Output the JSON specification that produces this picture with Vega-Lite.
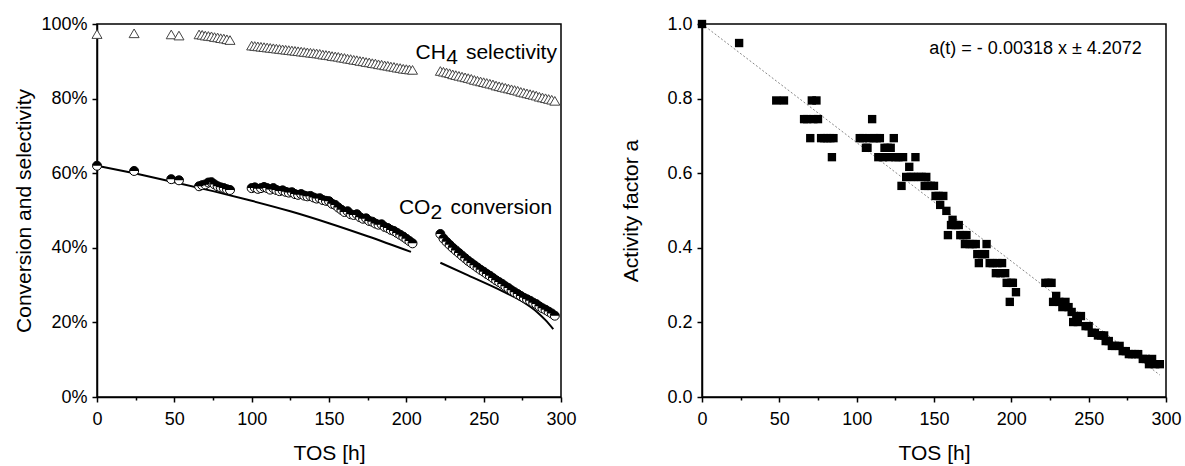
{
  "$schema": "https://vega.github.io/schema/vega-lite/v6.json",
  "background": "white",
  "padding": {"left": 13, "top": 14, "right": 5, "bottom": 0},
  "spacing": 43,
  "config": {
    "font": "Liberation Sans",
    "view": {"stroke": "black", "strokeWidth": 1.5},
    "axis": {
      "domainColor": "black", "domainWidth": 1.5,
      "tickColor": "black", "tickWidth": 1.5,
      "labelColor": "black", "titleColor": "black",
      "labelFont": "Liberation Sans", "titleFont": "Liberation Sans",
      "labelFontSize": 18, "titleFontSize": 21, "titleFontWeight": "normal",
      "grid": false, "labelPadding": 5
    }
  },
  "datasets": {
    "conv": [
      {"t": 0, "co2": 62.0, "ch4": 97.3},
      {"t": 24, "co2": 60.6, "ch4": 97.5},
      {"t": 48, "co2": 58.4, "ch4": 97.2},
      {"t": 53, "co2": 58.1, "ch4": 96.9},
      {"t": 66, "co2": 56.5, "ch4": 97.2},
      {"t": 68, "co2": 56.8, "ch4": 97.1},
      {"t": 70, "co2": 57.0, "ch4": 96.9},
      {"t": 72, "co2": 57.5, "ch4": 96.8},
      {"t": 74, "co2": 57.6, "ch4": 96.7},
      {"t": 76, "co2": 57.0, "ch4": 96.5},
      {"t": 78, "co2": 56.5, "ch4": 96.4},
      {"t": 80, "co2": 56.2, "ch4": 96.2},
      {"t": 82, "co2": 56.0, "ch4": 96.1},
      {"t": 84, "co2": 55.7, "ch4": 95.9},
      {"t": 86, "co2": 55.5, "ch4": 95.7},
      {"t": 100, "co2": 56.0, "ch4": 94.2},
      {"t": 102, "co2": 56.2, "ch4": 94.1},
      {"t": 104, "co2": 55.8, "ch4": 94.0},
      {"t": 106, "co2": 56.0, "ch4": 93.9},
      {"t": 108, "co2": 56.3, "ch4": 93.8},
      {"t": 110, "co2": 56.0, "ch4": 93.7},
      {"t": 112, "co2": 55.6, "ch4": 93.6},
      {"t": 114, "co2": 56.0, "ch4": 93.5},
      {"t": 116, "co2": 55.5, "ch4": 93.4},
      {"t": 118, "co2": 55.2, "ch4": 93.3},
      {"t": 120, "co2": 55.4, "ch4": 93.2},
      {"t": 122, "co2": 55.0, "ch4": 93.1},
      {"t": 124, "co2": 54.8, "ch4": 93.0},
      {"t": 126, "co2": 54.9, "ch4": 92.9},
      {"t": 128, "co2": 54.4, "ch4": 92.8},
      {"t": 130, "co2": 54.2, "ch4": 92.7},
      {"t": 132, "co2": 54.4, "ch4": 92.6},
      {"t": 134, "co2": 54.0, "ch4": 92.5},
      {"t": 136, "co2": 53.8, "ch4": 92.4},
      {"t": 138, "co2": 53.9, "ch4": 92.3},
      {"t": 140, "co2": 53.5, "ch4": 92.2},
      {"t": 142, "co2": 53.2, "ch4": 92.1},
      {"t": 144, "co2": 53.3, "ch4": 92.0},
      {"t": 146, "co2": 52.8, "ch4": 91.8},
      {"t": 148, "co2": 52.6, "ch4": 91.7},
      {"t": 150, "co2": 52.5, "ch4": 91.6},
      {"t": 152, "co2": 51.8, "ch4": 91.4},
      {"t": 154, "co2": 51.5, "ch4": 91.3},
      {"t": 156, "co2": 50.8, "ch4": 91.2},
      {"t": 158, "co2": 50.2, "ch4": 91.0},
      {"t": 160, "co2": 49.6, "ch4": 90.9},
      {"t": 162, "co2": 49.8, "ch4": 90.7},
      {"t": 164, "co2": 49.0, "ch4": 90.6},
      {"t": 166, "co2": 48.8, "ch4": 90.4},
      {"t": 168, "co2": 49.0, "ch4": 90.3},
      {"t": 170, "co2": 48.2, "ch4": 90.1},
      {"t": 172, "co2": 47.8, "ch4": 90.0},
      {"t": 174, "co2": 47.9, "ch4": 89.8},
      {"t": 176, "co2": 47.2, "ch4": 89.7},
      {"t": 178, "co2": 47.0, "ch4": 89.5},
      {"t": 180, "co2": 46.5, "ch4": 89.4},
      {"t": 182, "co2": 46.2, "ch4": 89.2},
      {"t": 184, "co2": 46.3, "ch4": 89.1},
      {"t": 186, "co2": 45.6, "ch4": 88.9},
      {"t": 188, "co2": 45.3, "ch4": 88.8},
      {"t": 190, "co2": 44.8, "ch4": 88.6},
      {"t": 192, "co2": 44.5, "ch4": 88.5},
      {"t": 194, "co2": 44.0, "ch4": 88.3},
      {"t": 196, "co2": 43.5, "ch4": 88.2},
      {"t": 198, "co2": 43.0, "ch4": 88.0},
      {"t": 200, "co2": 42.4, "ch4": 87.9},
      {"t": 202, "co2": 41.8, "ch4": 87.8},
      {"t": 204, "co2": 41.2, "ch4": 87.7},
      {"t": 222, "co2": 43.7, "ch4": 87.4},
      {"t": 224, "co2": 42.5, "ch4": 87.2},
      {"t": 226, "co2": 41.6, "ch4": 87.0},
      {"t": 228, "co2": 40.8, "ch4": 86.8},
      {"t": 230, "co2": 40.0, "ch4": 86.5},
      {"t": 232, "co2": 39.3, "ch4": 86.3},
      {"t": 234, "co2": 38.6, "ch4": 86.1},
      {"t": 236, "co2": 37.9, "ch4": 85.9},
      {"t": 238, "co2": 37.2, "ch4": 85.7},
      {"t": 240, "co2": 36.5, "ch4": 85.5},
      {"t": 242, "co2": 35.9, "ch4": 85.3},
      {"t": 244, "co2": 35.3, "ch4": 85.0},
      {"t": 246, "co2": 34.7, "ch4": 84.8},
      {"t": 248, "co2": 34.1, "ch4": 84.6},
      {"t": 250, "co2": 33.6, "ch4": 84.4},
      {"t": 252, "co2": 33.0, "ch4": 84.2},
      {"t": 254, "co2": 32.5, "ch4": 84.0},
      {"t": 256, "co2": 31.9, "ch4": 83.8},
      {"t": 258, "co2": 31.3, "ch4": 83.5},
      {"t": 260, "co2": 30.8, "ch4": 83.3},
      {"t": 262, "co2": 30.3, "ch4": 83.1},
      {"t": 264, "co2": 29.7, "ch4": 82.9},
      {"t": 266, "co2": 29.2, "ch4": 82.7},
      {"t": 268, "co2": 28.6, "ch4": 82.5},
      {"t": 270, "co2": 28.1, "ch4": 82.3},
      {"t": 272, "co2": 27.6, "ch4": 82.1},
      {"t": 274, "co2": 27.1, "ch4": 81.8},
      {"t": 276, "co2": 26.6, "ch4": 81.6},
      {"t": 278, "co2": 26.2, "ch4": 81.4},
      {"t": 280, "co2": 25.8, "ch4": 81.2},
      {"t": 282, "co2": 25.3, "ch4": 81.0},
      {"t": 284, "co2": 24.9, "ch4": 80.8},
      {"t": 286, "co2": 24.3, "ch4": 80.5},
      {"t": 288, "co2": 23.8, "ch4": 80.3},
      {"t": 290, "co2": 23.4, "ch4": 80.1},
      {"t": 292, "co2": 22.9, "ch4": 79.9},
      {"t": 294, "co2": 22.4, "ch4": 79.7},
      {"t": 296, "co2": 21.8, "ch4": 79.4}
    ],
    "model": [
      {"t": 0, "v": 62.0, "seg": 1},
      {"t": 25, "v": 59.9, "seg": 1},
      {"t": 50, "v": 57.6, "seg": 1},
      {"t": 75, "v": 55.2, "seg": 1},
      {"t": 100, "v": 52.6, "seg": 1},
      {"t": 125, "v": 49.8, "seg": 1},
      {"t": 150, "v": 46.6, "seg": 1},
      {"t": 175, "v": 43.1, "seg": 1},
      {"t": 203, "v": 38.9, "seg": 1},
      {"t": 222, "v": 36.0, "seg": 2},
      {"t": 240, "v": 32.6, "seg": 2},
      {"t": 262, "v": 28.4, "seg": 2},
      {"t": 275, "v": 25.6, "seg": 2},
      {"t": 285, "v": 22.6, "seg": 2},
      {"t": 290, "v": 20.6, "seg": 2},
      {"t": 295, "v": 18.2, "seg": 2}
    ],
    "act": [
      {"t": 0, "a": 1.0}, {"t": 24, "a": 0.949}, {"t": 48, "a": 0.795}, {"t": 53, "a": 0.795},
      {"t": 66, "a": 0.745}, {"t": 68, "a": 0.745}, {"t": 70, "a": 0.694}, {"t": 71, "a": 0.795},
      {"t": 72, "a": 0.745}, {"t": 74, "a": 0.795}, {"t": 75, "a": 0.745}, {"t": 77, "a": 0.694},
      {"t": 79, "a": 0.694}, {"t": 81, "a": 0.694}, {"t": 83, "a": 0.694}, {"t": 84, "a": 0.643},
      {"t": 85, "a": 0.694},
      {"t": 102, "a": 0.694}, {"t": 104, "a": 0.694}, {"t": 106, "a": 0.668}, {"t": 107, "a": 0.668},
      {"t": 108, "a": 0.694}, {"t": 110, "a": 0.745}, {"t": 111, "a": 0.694}, {"t": 113, "a": 0.694},
      {"t": 114, "a": 0.643}, {"t": 115, "a": 0.694}, {"t": 117, "a": 0.643}, {"t": 118, "a": 0.668},
      {"t": 120, "a": 0.668}, {"t": 121, "a": 0.643}, {"t": 122, "a": 0.668}, {"t": 124, "a": 0.694},
      {"t": 125, "a": 0.643}, {"t": 127, "a": 0.643}, {"t": 129, "a": 0.566}, {"t": 130, "a": 0.643},
      {"t": 132, "a": 0.59}, {"t": 134, "a": 0.617}, {"t": 135, "a": 0.59}, {"t": 137, "a": 0.59},
      {"t": 138, "a": 0.643}, {"t": 140, "a": 0.59}, {"t": 142, "a": 0.59}, {"t": 144, "a": 0.566},
      {"t": 145, "a": 0.59}, {"t": 146, "a": 0.566}, {"t": 148, "a": 0.566}, {"t": 150, "a": 0.566},
      {"t": 151, "a": 0.539}, {"t": 153, "a": 0.539}, {"t": 154, "a": 0.515}, {"t": 156, "a": 0.539},
      {"t": 158, "a": 0.499}, {"t": 159, "a": 0.434}, {"t": 161, "a": 0.461}, {"t": 162, "a": 0.475},
      {"t": 164, "a": 0.461}, {"t": 166, "a": 0.461}, {"t": 167, "a": 0.434}, {"t": 169, "a": 0.434},
      {"t": 170, "a": 0.41}, {"t": 171, "a": 0.434}, {"t": 173, "a": 0.41}, {"t": 175, "a": 0.41},
      {"t": 177, "a": 0.41}, {"t": 178, "a": 0.383}, {"t": 179, "a": 0.359}, {"t": 181, "a": 0.383},
      {"t": 183, "a": 0.383}, {"t": 184, "a": 0.41}, {"t": 186, "a": 0.359}, {"t": 188, "a": 0.359},
      {"t": 190, "a": 0.332}, {"t": 191, "a": 0.359}, {"t": 193, "a": 0.332}, {"t": 194, "a": 0.359},
      {"t": 196, "a": 0.332}, {"t": 197, "a": 0.306}, {"t": 199, "a": 0.255}, {"t": 200, "a": 0.306},
      {"t": 201, "a": 0.306}, {"t": 203, "a": 0.281},
      {"t": 222, "a": 0.306}, {"t": 224, "a": 0.306}, {"t": 226, "a": 0.306}, {"t": 227, "a": 0.255},
      {"t": 229, "a": 0.271}, {"t": 231, "a": 0.255}, {"t": 233, "a": 0.241}, {"t": 235, "a": 0.255},
      {"t": 237, "a": 0.241}, {"t": 239, "a": 0.228}, {"t": 240, "a": 0.201}, {"t": 242, "a": 0.217},
      {"t": 243, "a": 0.201}, {"t": 245, "a": 0.217}, {"t": 248, "a": 0.19}, {"t": 250, "a": 0.19},
      {"t": 252, "a": 0.172}, {"t": 254, "a": 0.172}, {"t": 256, "a": 0.165}, {"t": 258, "a": 0.165},
      {"t": 260, "a": 0.165}, {"t": 261, "a": 0.15}, {"t": 263, "a": 0.15}, {"t": 265, "a": 0.137},
      {"t": 267, "a": 0.137}, {"t": 270, "a": 0.137}, {"t": 272, "a": 0.123}, {"t": 274, "a": 0.123},
      {"t": 276, "a": 0.115}, {"t": 278, "a": 0.115}, {"t": 280, "a": 0.115}, {"t": 282, "a": 0.115},
      {"t": 285, "a": 0.102}, {"t": 287, "a": 0.102}, {"t": 289, "a": 0.088}, {"t": 291, "a": 0.102},
      {"t": 293, "a": 0.088}, {"t": 296, "a": 0.088}
    ],
    "trend": [
      {"t": 0, "a": 1.0},
      {"t": 296, "a": 0.059}
    ]
  },
  "hconcat": [
    {
      "width": 464,
      "height": 373,
      "encoding": {
        "x": {
          "field": "t", "type": "quantitative",
          "scale": {"domain": [0, 300], "nice": false},
          "axis": {
            "title": "TOS [h]", "titlePadding": 14, "labelPadding": 8,
            "values": [0, 25, 50, 75, 100, 125, 150, 175, 200, 225, 250, 275, 300],
            "labelExpr": "datum.value % 50 === 0 ? datum.label : ''",
            "tickSize": {"condition": {"test": "datum.value % 50 === 0", "value": 5}, "value": 3},
            "labelFlush": false, "labelOverlap": false
          }
        }
      },
      "layer": [
        {
          "data": {"name": "model"},
          "mark": {"type": "line", "color": "black", "strokeWidth": 2, "interpolate": "monotone"},
          "encoding": {
            "y": {
              "field": "v", "type": "quantitative",
              "scale": {"domain": [0, 100], "nice": false},
              "axis": {
                "title": "Conversion and selectivity", "titlePadding": 6,
                "values": [0, 10, 20, 30, 40, 50, 60, 70, 80, 90, 100],
                "labelExpr": "datum.value % 20 === 0 ? datum.value + '%' : ''",
                "tickSize": {"condition": {"test": "datum.value % 20 === 0", "value": 5}, "value": 3},
                "labelFlush": false, "labelOverlap": false
              }
            },
            "detail": {"field": "seg", "type": "nominal"}
          }
        },
        {
          "data": {"name": "conv"},
          "mark": {"type": "point", "shape": "triangle-up", "size": 100, "filled": true, "fill": "white", "stroke": "#444", "strokeWidth": 1, "opacity": 1},
          "encoding": {"y": {"field": "ch4", "type": "quantitative"}}
        },
        {
          "data": {"name": "conv"},
          "mark": {"type": "point", "shape": "circle", "size": 81, "filled": true, "fill": "white", "stroke": "black", "strokeWidth": 1, "opacity": 1},
          "encoding": {"y": {"field": "co2", "type": "quantitative"}}
        },
        {
          "data": {"name": "conv"},
          "mark": {"type": "point", "shape": "M-1,0A1,1,0,0,1,1,0Z", "size": 81, "filled": true, "fill": "black", "strokeWidth": 0, "opacity": 1},
          "encoding": {"y": {"field": "co2", "type": "quantitative"}}
        },
        {
          "data": {"values": [
            {"t": 206, "v": 90.5, "label": "CH"},
            {"t": 238.5, "v": 90.5, "label": "selectivity"},
            {"t": 195.2, "v": 49.1, "label": "CO"},
            {"t": 228.6, "v": 49.1, "label": "conversion"}
          ]},
          "mark": {"type": "text", "align": "left", "baseline": "alphabetic", "fontSize": 21, "font": "Liberation Sans", "color": "black"},
          "encoding": {
            "y": {"field": "v", "type": "quantitative"},
            "text": {"field": "label"}
          }
        },
        {
          "data": {"values": [
            {"t": 225.8, "v": 90.5, "label": "4"},
            {"t": 215.6, "v": 49.1, "label": "2"}
          ]},
          "mark": {"type": "text", "align": "left", "baseline": "alphabetic", "fontSize": 21, "dy": 5, "font": "Liberation Sans", "color": "black"},
          "encoding": {
            "y": {"field": "v", "type": "quantitative"},
            "text": {"field": "label"}
          }
        }
      ]
    },
    {
      "width": 464,
      "height": 373,
      "encoding": {
        "x": {
          "field": "t", "type": "quantitative",
          "scale": {"domain": [0, 300], "nice": false},
          "axis": {
            "title": "TOS [h]", "titlePadding": 14, "labelPadding": 8,
            "values": [0, 25, 50, 75, 100, 125, 150, 175, 200, 225, 250, 275, 300],
            "labelExpr": "datum.value % 50 === 0 ? datum.label : ''",
            "tickSize": {"condition": {"test": "datum.value % 50 === 0", "value": 5}, "value": 3},
            "labelFlush": false, "labelOverlap": false
          }
        }
      },
      "layer": [
        {
          "data": {"name": "trend"},
          "mark": {"type": "line", "color": "#888", "strokeWidth": 1, "strokeDash": [2, 2]},
          "encoding": {
            "y": {
              "field": "a", "type": "quantitative",
              "scale": {"domain": [0, 1], "nice": false},
              "axis": {
                "title": "Activity factor a", "titlePadding": 25,
                "values": [0, 0.1, 0.2, 0.3, 0.4, 0.5, 0.6, 0.7, 0.8, 0.9, 1.0],
                "labelExpr": "round(datum.value * 10) % 2 === 0 ? format(datum.value, '.1f') : ''",
                "tickSize": {"condition": {"test": "round(datum.value * 10) % 2 === 0", "value": 5}, "value": 3},
                "labelFlush": false, "labelOverlap": false
              }
            }
          }
        },
        {
          "data": {"name": "act"},
          "mark": {"type": "point", "shape": "square", "size": 70, "filled": true, "color": "black", "opacity": 1},
          "encoding": {"y": {"field": "a", "type": "quantitative"}}
        },
        {
          "data": {"values": [{"t": 147, "a": 0.92, "label": "a(t) = - 0.00318 x ± 4.2072"}]},
          "mark": {"type": "text", "align": "left", "baseline": "alphabetic", "fontSize": 18, "font": "Liberation Sans", "color": "black"},
          "encoding": {
            "y": {"field": "a", "type": "quantitative"},
            "text": {"field": "label"}
          }
        }
      ]
    }
  ]
}
